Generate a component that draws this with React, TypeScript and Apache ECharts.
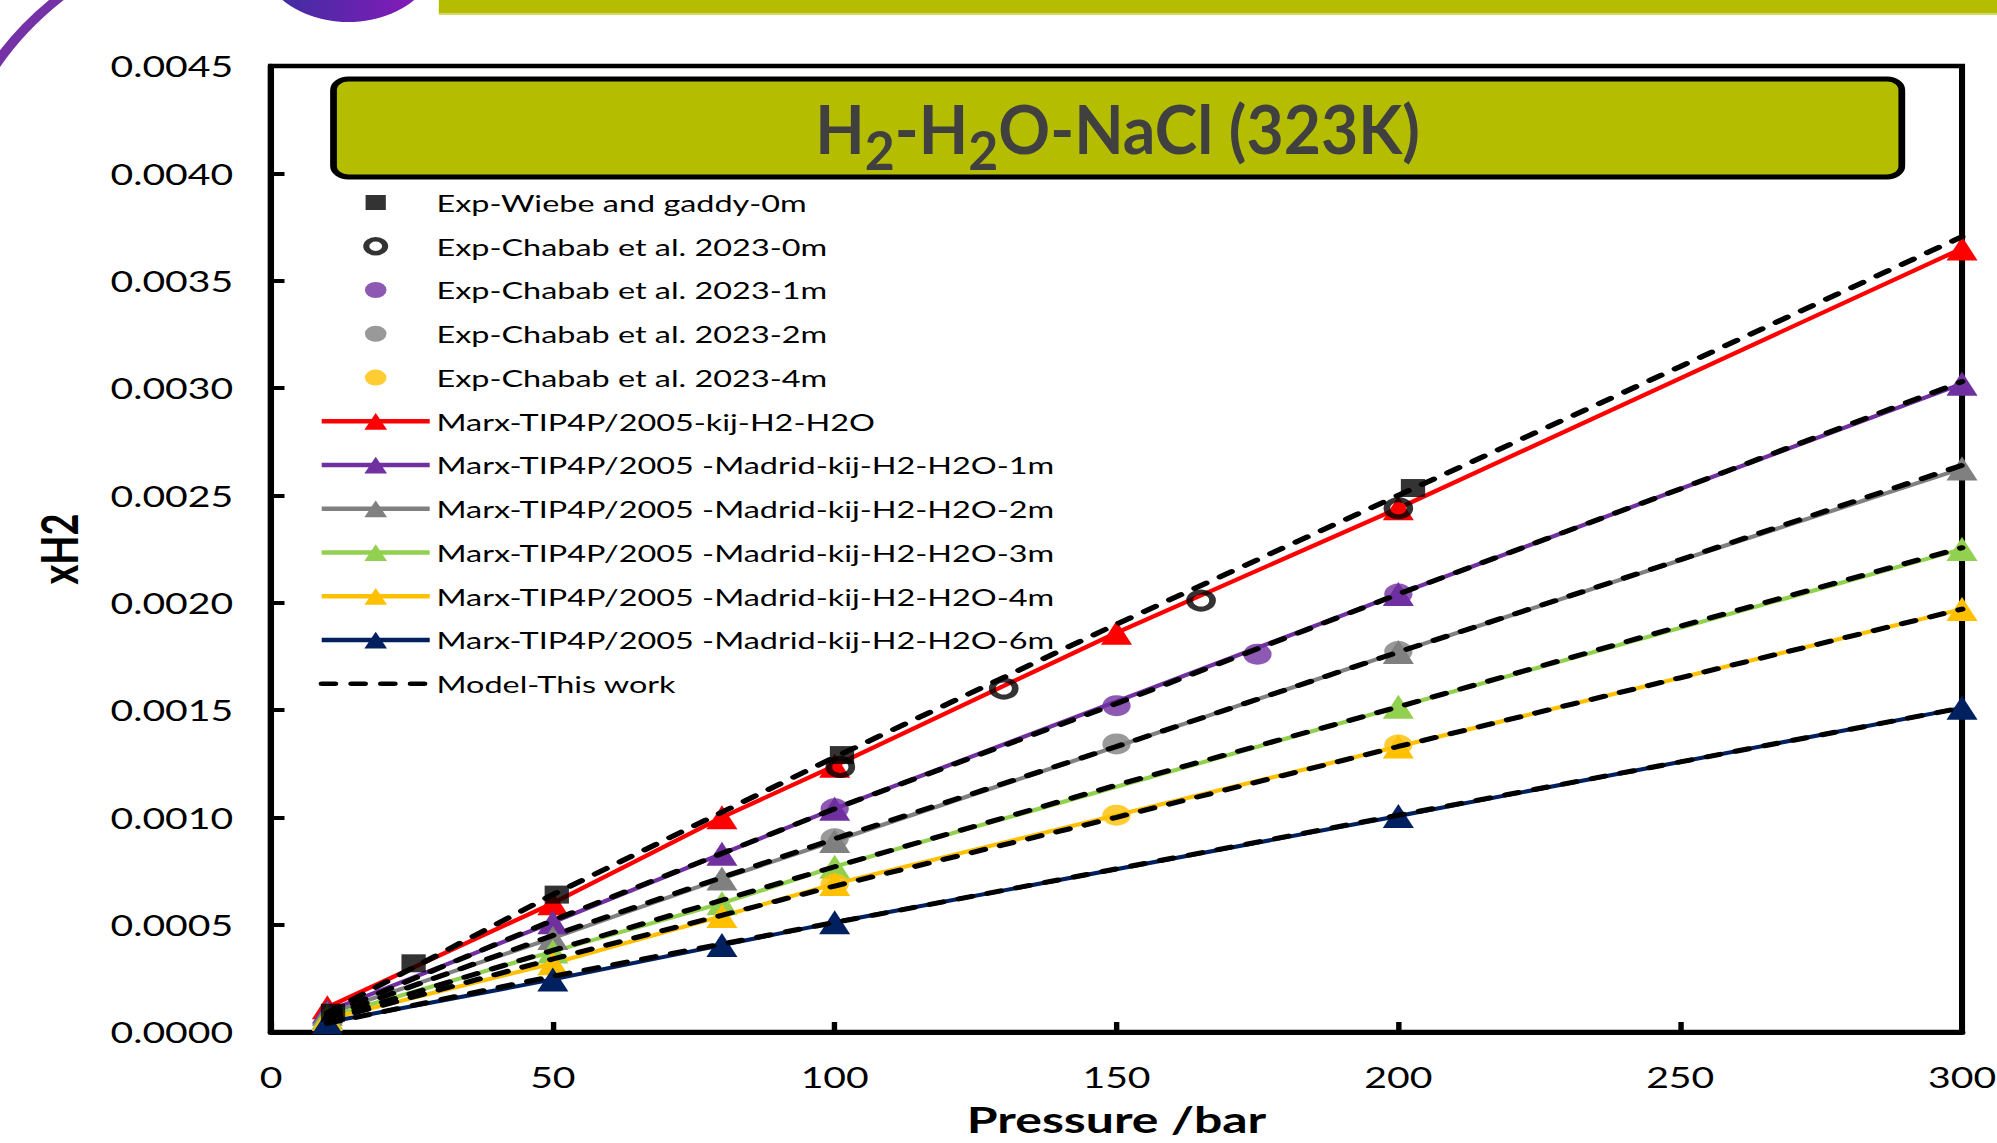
import React, { useEffect, useRef } from "react";
import * as echarts from "echarts";

// ---- data (pressure in bar, xH2 mole fraction) ----
const marxRedP = [10, 50, 80, 100, 150, 200, 300];
const marxRed = [0.000115, 0.0006, 0.001, 0.00124, 0.00186, 0.00244, 0.00365];

const marxP = [10, 50, 80, 100, 200, 300];
const marx1m = [0.000095, 0.000511, 0.00083, 0.00104, 0.00204, 0.00302];
const marx2m = [0.000085, 0.000438, 0.000715, 0.00089, 0.00177, 0.002625];
const marx3m = [0.00007, 0.000375, 0.0006, 0.00077, 0.001515, 0.00225];
const marx4m = [0.00006, 0.00032, 0.00054, 0.00069, 0.00133, 0.00197];
const marx6m = [0.000045, 0.000245, 0.000405, 0.000511, 0.001006, 0.00151];

const wiebeP = [11, 25.3, 50.7, 101.3, 202.6];
const wiebe = [0.00009, 0.00032, 0.00064, 0.00129, 0.002534];
const chabab0P = [101, 130, 165, 200];
const chabab0 = [0.001235, 0.0016, 0.00201, 0.00244];
const chabab1P = [100, 150, 175, 200];
const chabab1 = [0.00104, 0.00152, 0.00176, 0.00204];
const chabab2P = [100, 150, 200];
const chabab2 = [0.0009, 0.001342, 0.001772];
const chabab4P = [100, 150, 200];
const chabab4 = [0.00069, 0.00101, 0.001337];

const modelP = [10, 50, 100, 150, 200, 250, 300];
const model0 = [0.00009, 0.00064, 0.00128, 0.0019, 0.0025, 0.0031, 0.003705];
const model1 = [0.00008, 0.00052, 0.00104, 0.00153, 0.00204, 0.00253, 0.00303];
const model2 = [0.00007, 0.00045, 0.0009, 0.00133, 0.00177, 0.0022, 0.00264];
const model3 = [0.00006, 0.00038, 0.00077, 0.00115, 0.001515, 0.00189, 0.002256];
const model4 = [0.000055, 0.00034, 0.00068, 0.001, 0.00133, 0.00165, 0.00197];
const model6 = [0.00004, 0.00026, 0.00051, 0.00076, 0.00101, 0.001258, 0.00151];

const xTicks = { min: 0, max: 300, interval: 50 };
const yTicks = { min: 0, max: 0.0045, interval: 0.0005 };

const TITLE_PARTS = [
  { t: "H", sub: false },
  { t: "2", sub: true },
  { t: "-H", sub: false },
  { t: "2", sub: true },
  { t: "O-NaCl (323K)", sub: false },
];

const NAMES = {
  wiebe: "Exp-Wiebe and gaddy-0m",
  c0: "Exp-Chabab et al. 2023-0m",
  c1: "Exp-Chabab et al. 2023-1m",
  c2: "Exp-Chabab et al. 2023-2m",
  c4: "Exp-Chabab et al. 2023-4m",
  m0: "Marx-TIP4P/2005-kij-H2-H2O",
  m1: "Marx-TIP4P/2005 -Madrid-kij-H2-H2O-1m",
  m2: "Marx-TIP4P/2005 -Madrid-kij-H2-H2O-2m",
  m3: "Marx-TIP4P/2005 -Madrid-kij-H2-H2O-3m",
  m4: "Marx-TIP4P/2005 -Madrid-kij-H2-H2O-4m",
  m6: "Marx-TIP4P/2005 -Madrid-kij-H2-H2O-6m",
  model: "Model-This work",
};

const COLORS = {
  red: "#FF0000",
  purple: "#7030A0",
  grey: "#808080",
  green: "#92D050",
  yellow: "#FFC000",
  navy: "#002060",
};

const pairs = (xs: number[], ys: number[]) => xs.map((x, i) => [x, ys[i]]);

// ---- layout (inner, unstretched frame) ----
const W = 1479;
const H = 1143;
const SX = 1997 / W;
const FONT = "Lato";
const TITLE_MAIN = 67;
const TITLE_SUB = 54;

const SQUARE_ICON = "path://M0,0 M21,21 M3,3 L18,3 L18,18 L3,18 Z";
const CIRCLE_ICON = "path://M0,0 M21,21 M18.5,10.5 A8,8 0 1 1 2.5,10.5 A8,8 0 1 1 18.5,10.5 Z";
const RING_ICON = "path://M0,0 M21,21 M17.5,10.5 A7,7 0 1 1 3.5,10.5 A7,7 0 1 1 17.5,10.5 Z";

function measure(text: string, font: string): number {
  const ctx = document.createElement("canvas").getContext("2d");
  if (!ctx) return text.length * 30;
  ctx.font = font;
  return ctx.measureText(text).width;
}

function titleChildren() {
  const widths = TITLE_PARTS.map((p) =>
    measure(p.t, `bold ${p.sub ? TITLE_SUB : TITLE_MAIN}px ${FONT}`)
  );
  const total = widths.reduce((a, b) => a + b, 0);
  let x = -total / 2;
  return TITLE_PARTS.map((p, i) => {
    const el = {
      type: "text",
      z: 110,
      x,
      y: p.sub ? 21 : 0,
      silent: true,
      style: {
        text: p.t,
        align: "left",
        verticalAlign: "middle",
        fill: "#404040",
        fontFamily: FONT,
        fontWeight: "bold",
        fontSize: p.sub ? TITLE_SUB : TITLE_MAIN,
      },
    };
    x += widths[i];
    return el;
  });
}

function buildOption() {
  const marxLine = (name: string, xs: number[], ys: number[], color: string) => ({
    name,
    type: "line",
    data: pairs(xs, ys),
    symbol: "triangle",
    symbolSize: [23, 24],
    showAllSymbol: true,
    lineStyle: { color, width: 4 },
    itemStyle: { color },
    silent: true,
  });
  const modelLine = (ys: number[]) => ({
    name: NAMES.model,
    type: "line",
    data: pairs(modelP, ys),
    symbol: "none",
    lineStyle: { color: "#000", width: 5, type: [10, 12], cap: "round" },
    itemStyle: { color: "#000" },
    silent: true,
    z: 4,
  });
  const expScatter = (name: string, xs: number[], ys: number[], symbol: string, size: number, itemStyle: any) => ({
    name,
    type: "scatter",
    data: pairs(xs, ys),
    symbol,
    symbolSize: size,
    itemStyle,
    silent: true,
    z: 3,
  });

  return {
    animation: false,
    backgroundColor: "#fff",
    grid: {
      left: 200.7,
      right: 25.9,
      top: 66,
      bottom: 111,
      show: true,
      borderColor: "#000",
      borderWidth: 4.5,
      backgroundColor: "transparent",
      containLabel: false,
      outerBoundsMode: "none",
    },
    xAxis: {
      type: "value",
      ...xTicks,
      name: "Pressure /bar",
      nameLocation: "middle",
      nameGap: 68,
      nameTextStyle: { fontFamily: FONT, fontWeight: "bold", fontSize: 37, lineHeight: 37, color: "#000" },
      axisLine: { show: true, lineStyle: { color: "#000", width: 5 } },
      axisTick: { show: true, inside: true, length: 10, lineStyle: { color: "#000", width: 4 } },
      axisLabel: { margin: 30, fontFamily: FONT, fontSize: 29, color: "#000" },
      splitLine: { show: false },
    },
    yAxis: {
      type: "value",
      ...yTicks,
      name: "xH2",
      nameLocation: "middle",
      nameGap: 139,
      nameTextStyle: { fontFamily: FONT, fontWeight: "bold", fontSize: 38, color: "#000" },
      axisLine: { show: true, lineStyle: { color: "#000", width: 4.5 } },
      axisTick: { show: true, inside: true, length: 10, lineStyle: { color: "#000", width: 4 } },
      axisLabel: {
        margin: 28,
        fontFamily: FONT,
        fontSize: 29,
        color: "#000",
        formatter: (v: number) => v.toFixed(4),
      },
      splitLine: { show: false },
    },
    legend: {
      orient: "vertical",
      left: 236,
      top: 187.5,
      padding: 0,
      itemWidth: 80,
      itemHeight: 21,
      itemGap: 13.76,
      selectedMode: false,
      textStyle: { fontFamily: FONT, fontSize: 24, color: "#000", lineHeight: 30 },
      lineStyle: { width: 4.5 },
      data: [
        { name: NAMES.wiebe, icon: SQUARE_ICON },
        {
          name: NAMES.c0,
          icon: RING_ICON,
          itemStyle: { color: "rgba(0,0,0,0)", borderColor: "#000", borderWidth: 4.5 },
        },
        { name: NAMES.c1, icon: CIRCLE_ICON },
        { name: NAMES.c2, icon: CIRCLE_ICON },
        { name: NAMES.c4, icon: CIRCLE_ICON },
        { name: NAMES.m0 },
        { name: NAMES.m1 },
        { name: NAMES.m2 },
        { name: NAMES.m3 },
        { name: NAMES.m4 },
        { name: NAMES.m6 },
        { name: NAMES.model, itemStyle: { color: "rgba(0,0,0,0)", borderWidth: 0, opacity: 0 } },
      ],
    },
    graphic: [
      // slide decorations at the top
      {
        type: "arc",
        shape: { cx: 260, cy: 200, r: 296, startAngle: -2.75, endAngle: -2.3 },
        style: { stroke: "#7432A6", lineWidth: 8, fill: null },
        silent: true,
      },
      {
        type: "circle",
        shape: { cx: 258, cy: -43, r: 65 },
        style: {
          fill: new echarts.graphic.LinearGradient(0, 0, 1, 0, [
            { offset: 0, color: "#36309E" },
            { offset: 1, color: "#8E18BC" },
          ]),
        },
        silent: true,
      },
      {
        type: "rect",
        shape: { x: 325, y: 0, width: W - 325, height: 14 },
        style: { fill: "#B5BD00" },
        silent: true,
      },
      {
        type: "rect",
        shape: { x: 325, y: 13, width: W - 325, height: 2 },
        style: { fill: "#D3D966" },
        silent: true,
      },
      // title box
      {
        type: "rect",
        z: 100,
        shape: { x: 247, y: 79, width: 1161.5, height: 98, r: 11 },
        style: { fill: "#B5BD00", stroke: "#000", lineWidth: 5 },
        silent: true,
      },
      {
        type: "group",
        z: 110,
        x: 827.75,
        y: 128,
        scaleX: 0.71,
        silent: true,
        children: titleChildren(),
      },
    ],
    series: [
      marxLine(NAMES.m0, marxRedP, marxRed, COLORS.red),
      marxLine(NAMES.m1, marxP, marx1m, COLORS.purple),
      marxLine(NAMES.m2, marxP, marx2m, COLORS.grey),
      marxLine(NAMES.m3, marxP, marx3m, COLORS.green),
      marxLine(NAMES.m4, marxP, marx4m, COLORS.yellow),
      marxLine(NAMES.m6, marxP, marx6m, COLORS.navy),
      expScatter(NAMES.wiebe, wiebeP, wiebe, "rect", 18, { color: "#000" }),
      expScatter(NAMES.c0, chabab0P, chabab0, "circle", 17, {
        color: "rgba(0,0,0,0)",
        borderColor: "#000",
        borderWidth: 5,
      }),
      expScatter(NAMES.c1, chabab1P, chabab1, "circle", 21, { color: COLORS.purple }),
      expScatter(NAMES.c2, chabab2P, chabab2, "circle", 21, { color: COLORS.grey }),
      expScatter(NAMES.c4, chabab4P, chabab4, "circle", 21, { color: COLORS.yellow }),
      modelLine(model0),
      modelLine(model1),
      modelLine(model2),
      modelLine(model3),
      modelLine(model4),
      modelLine(model6),
    ],
  };
}

export default function App() {
  const ref = useRef<HTMLDivElement>(null);
  useEffect(() => {
    if (!ref.current) return;
    const chart = echarts.init(ref.current, null, { renderer: "svg" });
    chart.setOption(buildOption() as any);
    return () => chart.dispose();
  }, []);
  return (
    <div
      ref={ref}
      style={{
        position: "fixed",
        left: 0,
        top: 0,
        width: W,
        height: H,
        transform: `scaleX(${SX})`,
        transformOrigin: "0 0",
        background: "#fff",
      }}
    />
  );
}
